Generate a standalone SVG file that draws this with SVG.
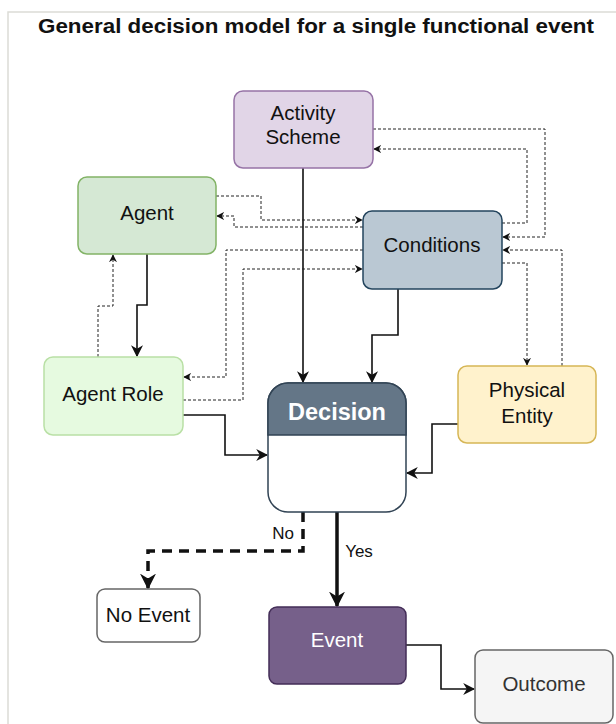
<svg xmlns="http://www.w3.org/2000/svg" width="616" height="724" viewBox="0 0 616 724">
<style>
text{font-family:"Liberation Sans",Arial,sans-serif;font-size:20.5px;fill:#111;text-anchor:middle}
.n{stroke-width:1.5}
.s{fill:none;stroke:#111;stroke-width:1.6}
.d{fill:none;stroke:#222;stroke-width:1;stroke-dasharray:3 2}
.w{fill:#fff}
.l{font-size:17px}
</style>
<defs>
<marker id="a" viewBox="0 0 10 10" refX="9" refY="5" markerWidth="8" markerHeight="8" orient="auto" markerUnits="userSpaceOnUse"><path d="M0,0 L10,5 L0,10 L3,5 Z" fill="#111"/></marker>
<marker id="b" viewBox="0 0 10 10" refX="9" refY="5" markerWidth="12" markerHeight="12" orient="auto" markerUnits="userSpaceOnUse"><path d="M0,0 L10,5 L0,10 L3,5 Z" fill="#111"/></marker>
<marker id="c" viewBox="0 0 10 10" refX="9" refY="5" markerWidth="16" markerHeight="16" orient="auto" markerUnits="userSpaceOnUse"><path d="M0,0 L10,5 L0,10 L3,5 Z" fill="#111"/></marker>
</defs>
<rect width="616" height="724" fill="#fff"/>
<path d="M8,724 V12 H616" fill="none" stroke="#dcdcd6" stroke-width="1.5"/>
<text x="316" y="33" textLength="556" lengthAdjust="spacingAndGlyphs" style="font-weight:bold;font-size:19.5px">General decision model for a single functional event</text>

<g id="connectors">
<path class="s" d="M303,168 V382" marker-end="url(#b)"/>
<path class="s" d="M398,289 V335 H372 V382" marker-end="url(#b)"/>
<path class="s" d="M147,254 V305 H137 V356" marker-end="url(#b)"/>
<path class="s" d="M183,415 H225 V455 H267" marker-end="url(#b)"/>
<path class="s" d="M458,424 H432 V473 H407" marker-end="url(#b)"/>
<path class="s" d="M406,645 H441 V689 H474" marker-end="url(#b)"/>
<path d="M337,512 V606" fill="none" stroke="#111" stroke-width="3.5" marker-end="url(#c)"/>
<path d="M303,512 V551 H148 V588" fill="none" stroke="#111" stroke-width="3.5" stroke-dasharray="10 7" marker-end="url(#c)"/>
<path class="d" d="M373,129 H545 V237 H503" marker-end="url(#a)"/>
<path class="d" d="M502,223 H527 V149 H374" marker-end="url(#a)"/>
<path class="d" d="M216,196 H261 V220 H362" marker-end="url(#a)"/>
<path class="d" d="M363,227 H234 V216 H217" marker-end="url(#a)"/>
<path class="d" d="M363,250 H226 V377 H184" marker-end="url(#a)"/>
<path class="d" d="M183,400 H243 V269 H362" marker-end="url(#a)"/>
<path class="d" d="M502,263 H527 V365" marker-end="url(#a)"/>
<path class="d" d="M562,366 V250 H503" marker-end="url(#a)"/>
<path class="d" d="M98,357 V306 H113 V255" marker-end="url(#a)"/>
<text x="283" y="539" class="l">No</text>
<text x="359" y="557" class="l">Yes</text>
</g>

<g id="activity-scheme">
<rect class="n" x="234" y="91" width="139" height="77" rx="9" fill="#e1d5e7" stroke="#9673a6"/>
<text x="303" y="120">Activity</text>
<text x="303" y="144">Scheme</text>
</g>
<g id="agent">
<rect class="n" x="78" y="177" width="138" height="77" rx="9" fill="#d5e8d4" stroke="#82b366"/>
<text x="147" y="220">Agent</text>
</g>
<g id="conditions">
<rect class="n" x="363" y="211" width="139" height="78" rx="9" fill="#bac8d3" stroke="#23445d"/>
<text x="432" y="252">Conditions</text>
</g>
<g id="agent-role">
<rect class="n" x="44" y="357" width="139" height="78" rx="9" fill="#e6fae0" stroke="#b9e0a5"/>
<text x="113" y="401">Agent Role</text>
</g>
<g id="decision">
<rect class="n" x="268" y="383" width="138" height="129" rx="20" fill="#fff" stroke="#314354"/>
<path d="M268,435 V403 A20,20 0 0 1 288,383 H386 A20,20 0 0 1 406,403 V435 Z" fill="#647687" stroke="#314354" stroke-width="1.5"/>
<text x="337" y="420" class="w" style="font-weight:bold;font-size:23.5px">Decision</text>
</g>
<g id="physical-entity">
<rect class="n" x="458" y="366" width="138" height="77" rx="9" fill="#fff2cc" stroke="#d6b656"/>
<text x="527" y="397">Physical</text>
<text x="527" y="423">Entity</text>
</g>
<g id="no-event">
<rect class="n" x="97" y="589" width="103" height="53" rx="8" fill="#fff" stroke="#666"/>
<text x="148" y="622">No Event</text>
</g>
<g id="event">
<rect class="n" x="269" y="607" width="137" height="77" rx="8" fill="#76608a" stroke="#432d57"/>
<text x="337" y="647" class="w">Event</text>
</g>
<g id="outcome">
<rect class="n" x="475" y="650" width="138" height="73" rx="8" fill="#f5f5f5" stroke="#666"/>
<text x="544" y="691" style="fill:#333">Outcome</text>
</g>
</svg>
